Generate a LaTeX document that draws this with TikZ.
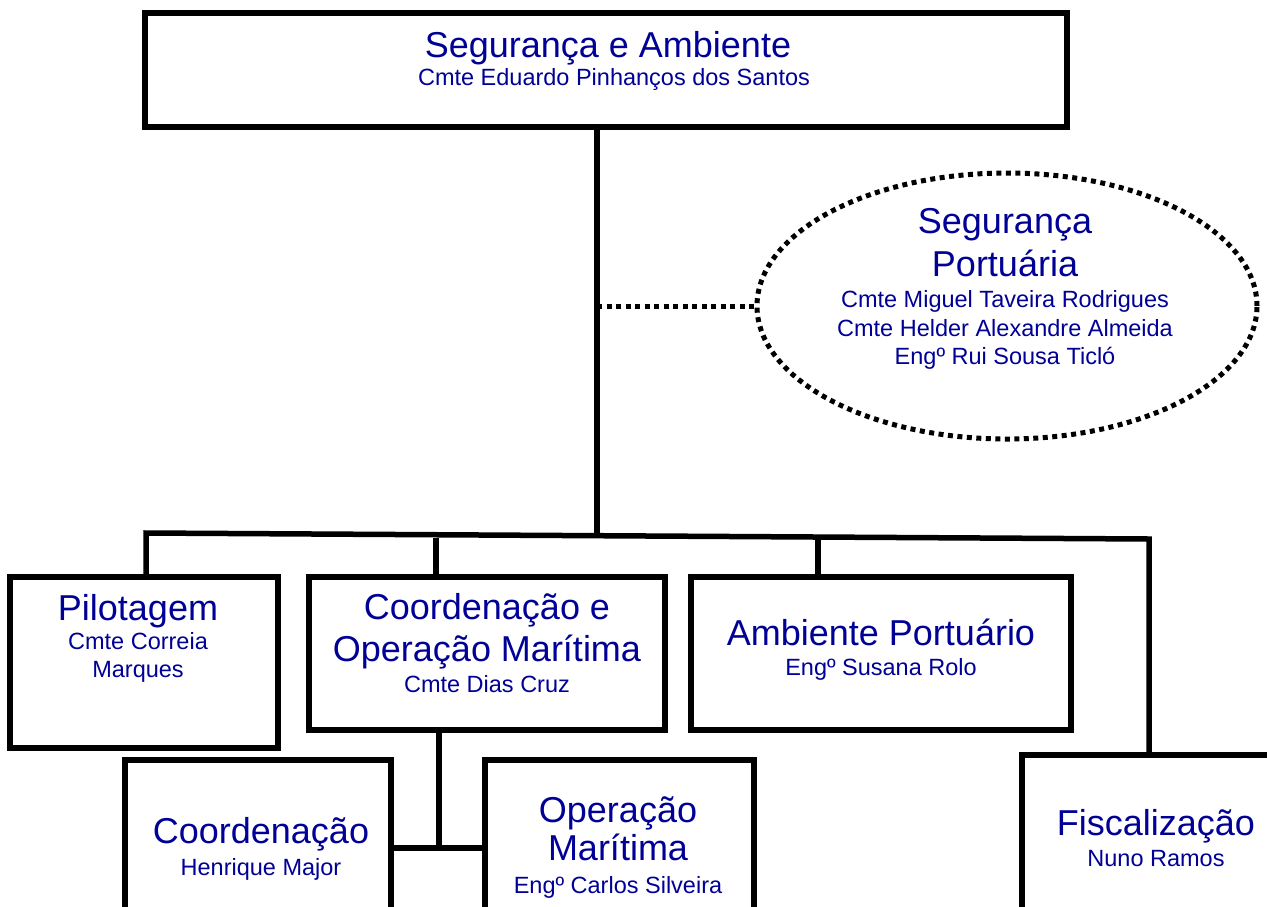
\documentclass[tikz,border=0pt]{standalone}
\usepackage{fontspec}
\setmainfont{Liberation Sans}
\usetikzlibrary{shapes.geometric}
\definecolor{navy}{RGB}{0,0,150}
\tikzset{
  box/.style={draw=black, line width=6pt, rectangle, inner sep=0pt},
  oval/.style={draw=black, line width=5pt, ellipse, inner sep=0pt, line cap=butt, dash pattern=on 5pt off 4.5pt},
  conn/.style={draw=black, line width=5.5pt, line join=miter},
  dotconn/.style={draw=black, line width=5pt, line cap=butt, dash pattern=on 5pt off 4.5pt},
  ttl/.style={text=navy, anchor=base, inner sep=0pt, font=\fontsize{36}{40}\selectfont},
  sub/.style={text=navy, anchor=base, inner sep=0pt, font=\fontsize{23.5}{27}\selectfont}
}
\begin{document}
\begin{tikzpicture}[x=1pt,y=-1pt]
\useasboundingbox (0,0) rectangle (1267,906);
\clip (0,0) rectangle (1267,906);
\fill[white] (0,0) rectangle (1267,906);

% boxes
\node[box, minimum width=922pt, minimum height=114pt] (top) at (606,70) {};
\node[oval, minimum width=500pt, minimum height=266pt] (ell) at (1007,306) {};
\node[box, minimum width=268pt, minimum height=171pt] (pil) at (144,662.5) {};
\node[box, minimum width=356pt, minimum height=153pt] (coord) at (487,653.5) {};
\node[box, minimum width=380pt, minimum height=153pt] (amb) at (881,653.5) {};
\node[box, minimum width=266pt, minimum height=181pt] (sco) at (258,850.5) {};
\node[box, minimum width=269pt, minimum height=181pt] (sop) at (619.5,850.5) {};
\node[box, minimum width=270pt, minimum height=185pt] (fis) at (1157,847.5) {};

% connector points
\coordinate (busL) at (146,533);
\coordinate (busR) at (1149,539);
\coordinate (j) at (597,536);
\coordinate (dj) at (597,306);
\coordinate (cd) at (436,538);
\coordinate (ad) at (818,538.5);
\coordinate (sj) at (439,848);

% connectors
\draw[conn] (top.south -| j) -- (j);
\draw[conn] (busL |- pil.north) -- (busL) -- (busR) -- (busR |- fis.north);
\draw[conn] (cd) -- (cd |- coord.north);
\draw[conn] (ad) -- (ad |- amb.north);
\draw[dotconn] (dj) -- (ell.west);
\draw[conn] (sj |- coord.south) -- (sj);
\draw[conn] (sco.east |- sj) -- (sop.west |- sj);

% texts
\node[ttl] (topA) at (608,57) {Segurança e Ambiente};
\node[sub] (topB) at (614,85) {Cmte Eduardo Pinhanços dos Santos};

\node[ttl] (ellA) at (1005,233) {Segurança};
\node[ttl] (ellB) at (1005,276) {Portuária};
\node[sub] (ellC) at (1005,307) {Cmte Miguel Taveira Rodrigues};
\node[sub] (ellD) at (1005,336) {Cmte Helder Alexandre Almeida};
\node[sub] (ellE) at (1005,364) {Engº Rui Sousa Ticló};

\node[ttl] (pilA) at (138,620) {Pilotagem};
\node[sub] (pilB) at (138,649) {Cmte Correia};
\node[sub] (pilC) at (138,677) {Marques};

\node[ttl] (coA) at (487,619) {Coordenação e};
\node[ttl] (coB) at (487,661) {Operação Marítima};
\node[sub] (coC) at (487,692) {Cmte Dias Cruz};

\node[ttl] (amA) at (881,645) {Ambiente Portuário};
\node[sub] (amB) at (881,675) {Engº Susana Rolo};

\node[ttl] (scA) at (261,843) {Coordenação};
\node[sub] (scB) at (261,875) {Henrique Major};

\node[ttl] (soA) at (618,822) {Operação};
\node[ttl] (soB) at (618,860) {Marítima};
\node[sub] (soC) at (618,893) {Engº Carlos Silveira};

\node[ttl] (fiA) at (1156,835) {Fiscalização};
\node[sub] (fiB) at (1156,866) {Nuno Ramos};
\end{tikzpicture}
\end{document}
